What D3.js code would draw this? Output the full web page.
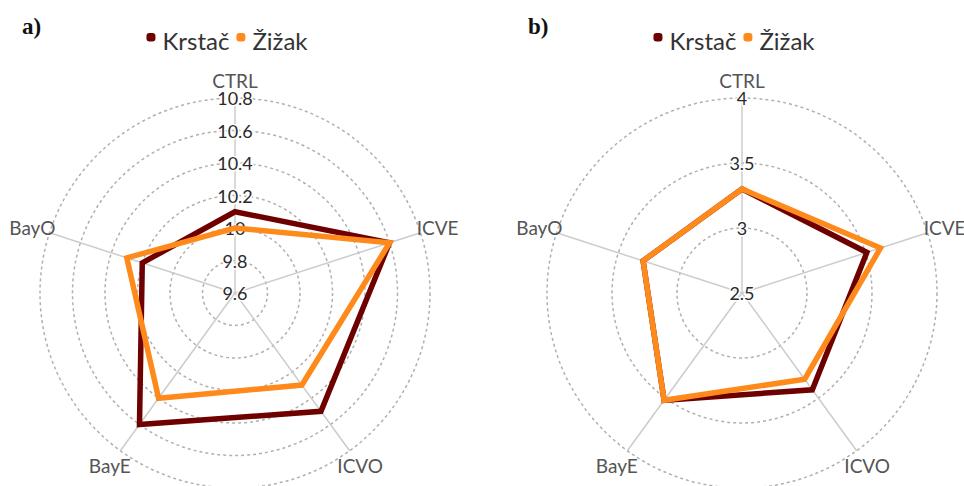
<!DOCTYPE html>
<html>
<head>
<meta charset="utf-8">
<script src="https://cdn.jsdelivr.net/npm/d3@7"></script>
<style>
  html, body { margin: 0; padding: 0; background: #fff; }
  svg { display: block; }
</style>
</head>
<body>
<svg id="chart" width="964" height="486"></svg>
<script>
// ---- data ----
const indicators = ["CTRL", "ICVE", "ICVO", "BayE", "BayO"];
const seriesNames = ["Krstač", "Žižak"];
const seriesColors = ["#6e0000", "#ff8a1c"];

const krstacA = [10.1, 10.6, 10.5, 10.6, 10.2];
const zizakA  = [10.0, 10.6, 10.3, 10.4, 10.3];
const ticksA  = [9.6, 9.8, 10, 10.2, 10.4, 10.6, 10.8];

const krstacB = [3.3, 3.51, 3.42, 3.52, 3.3];
const zizakB  = [3.3, 3.62, 3.32, 3.52, 3.3];
const ticksB  = [2.5, 3, 3.5, 4];

const panels = [
  { tag: "a)", cx: 235, ticks: ticksA, series: [krstacA, zizakA] },
  { tag: "b)", cx: 742, ticks: ticksB, series: [krstacB, zizakB] }
];

const svg = d3.select("#chart");
const cy = 293, R = 195;
const fontSans = "Lato, 'Source Sans Pro', 'Noto Sans', sans-serif";

panels.forEach((p, pi) => {
  const g = svg.append("g");
  const r = d3.scaleLinear().domain([p.ticks[0], p.ticks[p.ticks.length - 1]]).range([0, R]);
  const ang = d3.scalePoint().domain(indicators).range([0, 2 * Math.PI * (indicators.length - 1) / indicators.length]);
  const px = (a, rr) => p.cx + rr * Math.sin(a);
  const py = (a, rr) => cy - rr * Math.cos(a);

  // panel tag
  svg.append("text")
    .attr("x", pi === 0 ? 22 : 528).attr("y", 34)
    .attr("font-family", "'Liberation Serif', 'DejaVu Serif', serif")
    .attr("font-weight", "bold").attr("font-size", 23).attr("fill", "#111")
    .text(p.tag);

  // rings
  g.selectAll("circle.ring").data(p.ticks.slice(1)).join("circle")
    .attr("cx", p.cx).attr("cy", cy).attr("r", d => r(d))
    .attr("fill", "none").attr("stroke", "#b0b0b0")
    .attr("stroke-width", 1.5).attr("stroke-dasharray", "3,3");

  // axis lines
  g.selectAll("line.axis").data(indicators).join("line")
    .attr("x1", p.cx).attr("y1", cy)
    .attr("x2", d => px(ang(d), R)).attr("y2", d => py(ang(d), R))
    .attr("stroke", "#cccccc").attr("stroke-width", 1.5);

  // axis names
  g.selectAll("text.name").data(indicators).join("text")
    .attr("x", d => px(ang(d), 213)).attr("y", d => py(ang(d), 213))
    .attr("text-anchor", "middle").attr("dominant-baseline", "central")
    .attr("font-family", fontSans).attr("font-size", 19).attr("fill", "#555")
    .text(d => d);

  // tick labels
  g.selectAll("text.tick").data(p.ticks).join("text")
    .attr("x", p.cx).attr("y", d => cy - r(d))
    .attr("text-anchor", "middle").attr("dominant-baseline", "central")
    .attr("font-family", fontSans).attr("font-size", 18).attr("fill", "#2a2a2a")
    .attr("stroke", "#fff").attr("stroke-width", 3).attr("paint-order", "stroke")
    .text(d => String(d));

  // series
  const line = d3.lineRadial()
    .angle((d, i) => ang(indicators[i]))
    .radius(d => r(d))
    .curve(d3.curveLinearClosed);
  p.series.forEach((vals, si) => {
    g.append("path")
      .attr("transform", `translate(${p.cx},${cy})`)
      .attr("d", line(vals))
      .attr("fill", "none").attr("stroke", seriesColors[si])
      .attr("stroke-width", 5.5).attr("stroke-linejoin", "miter");
  });

  // legend
  const lg = svg.append("g");
  let x = 0;
  seriesNames.forEach((n, si) => {
    lg.append("rect").attr("x", x).attr("y", -7).attr("width", 9).attr("height", 8.5)
      .attr("rx", 3).attr("fill", seriesColors[si]);
    x += 16;
    const t = lg.append("text").attr("x", x).attr("y", 0)
      .attr("dominant-baseline", "central")
      .attr("font-family", fontSans).attr("font-size", 24).attr("fill", "#333").text(n);
    x += t.node().getComputedTextLength() + 7;
  });
  const w = x - 7;
  lg.attr("transform", `translate(${p.cx - 8 - w / 2},40)`);
});
</script>
</body>
</html>
